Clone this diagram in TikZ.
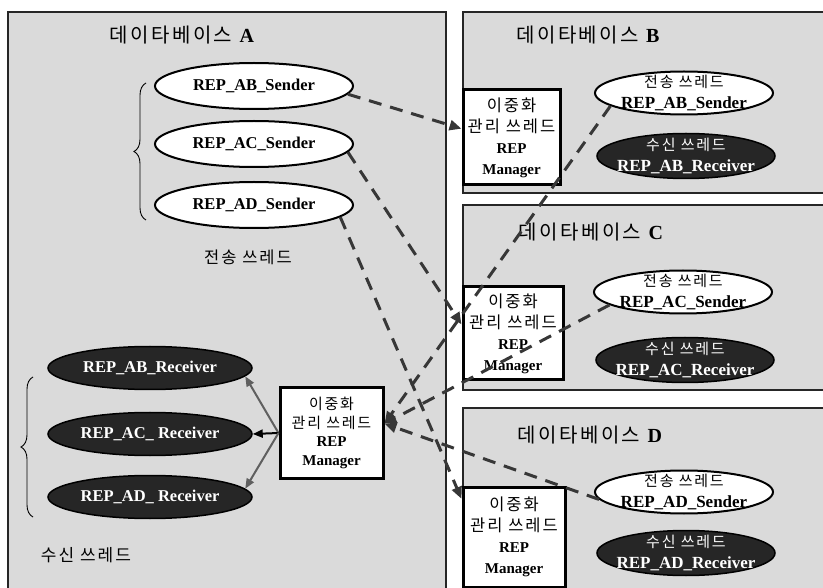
\documentclass[tikz,border=0pt]{standalone}
\usepackage{fontspec}
\setmainfont{Liberation Serif}
\newfontfamily\kr[LetterSpace=12]{Noto Sans CJK KR}
\usetikzlibrary{arrows.meta,decorations.pathreplacing,shapes.geometric}
\definecolor{panelc}{RGB}{218,218,218}
\definecolor{recvc}{RGB}{38,38,38}
\definecolor{dashc}{RGB}{55,55,55}
\definecolor{solc}{RGB}{95,95,95}
\tikzset{
  panelline/.style={draw=black!85, line width=2pt},
  titlec/.style={inner sep=0pt, font=\fontsize{20}{24}\selectfont},
  sendA/.style={ellipse, draw=black, line width=2pt, fill=white, inner sep=0pt,
    minimum width=198pt, minimum height=46pt, font=\bfseries\fontsize{16.5}{19}\selectfont},
  recvA/.style={ellipse, draw=black, line width=1.5pt, fill=recvc, text=white, inner sep=0pt,
    minimum width=204pt, minimum height=43pt, font=\bfseries\fontsize{16.5}{19}\selectfont},
  sendR/.style={ellipse, draw=black, line width=2pt, fill=white, inner sep=-7pt, align=center,
    minimum width=178pt, minimum height=43pt, font=\fontsize{17}{21}\selectfont},
  recvR/.style={ellipse, draw=black, line width=1.5pt, fill=recvc, text=white, inner sep=-7pt, align=center,
    minimum width=178pt, minimum height=45pt, font=\fontsize{17}{21}\selectfont},
  mgr/.style={rectangle, draw=black, line width=3pt, fill=white, align=center, inner sep=1pt,
    font=\fontsize{15}{21}\selectfont},
  lbl/.style={inner sep=0pt},
  bracec/.style={decorate, decoration={brace, amplitude=12pt}, draw=black, line width=0.9pt},
  dsh/.style={draw=dashc, line width=3pt, dash pattern=on 13pt off 9pt,
    -{Triangle[length=12pt,width=10pt]}},
  sol/.style={draw=solc, line width=2pt, -{Triangle[length=10pt,width=8pt]}}
}
\newcommand\krA[1]{{\kr\fontsize{15}{18.5}\selectfont #1}}
\newcommand\krR[1]{{\kr\fontsize{16.5}{21}\selectfont #1}}
\newcommand\krE[1]{{\kr\fontsize{15}{21}\selectfont #1}}
\begin{document}
\begin{tikzpicture}[x=1pt,y=-1pt]
\useasboundingbox (0,0) rectangle (823,588);
\fill[white] (0,0) rectangle (823,588);
% panels
\fill[panelc] (8,12) rectangle (446,588);
\draw[panelline] (8,588) -- (8,12) -- (446,12) -- (446,588);
\fill[panelc] (463,12) rectangle (823,193);
\draw[panelline] (823,12) -- (463,12) -- (463,193) -- (823,193);
\fill[panelc] (463,205) rectangle (823,390);
\draw[panelline] (823,205) -- (463,205) -- (463,390) -- (823,390);
\fill[panelc] (463,408) rectangle (823,588);
\draw[panelline] (823,408) -- (463,408) -- (463,588);
% titles
\node[titlec] (tA) at (182,35) {{\kr 데이타베이스} \textbf{A}};
\node[titlec] (tB) at (588,35) {{\kr 데이타베이스} \textbf{B}};
\node[titlec] (tC) at (591,232) {{\kr 데이타베이스} \textbf{C}};
\node[titlec] (tD) at (590,435) {{\kr 데이타베이스} \textbf{D}};
% database A
\node[sendA] (sAB) at (254,86) {REP\_AB\_Sender};
\node[sendA] (sAC) at (254,144) {REP\_AC\_Sender};
\node[sendA] (sAD) at (254,205) {REP\_AD\_Sender};
\node[lbl, font=\kr\fontsize{16.5}{18}\selectfont] (lS) at (248,257) {전송 쓰레드};
\node[recvA] (rAB) at (150,368) {REP\_AB\_Receiver};
\node[recvA] (rAC) at (150,434) {REP\_AC\_ Receiver};
\node[recvA] (rAD) at (150,497) {REP\_AD\_ Receiver};
\node[lbl, font=\kr\fontsize{17}{20}\selectfont] (lR) at (86,555) {수신 쓰레드};
\node[mgr, minimum width=103pt, minimum height=90pt, font=\fontsize{15}{18.5}\selectfont] (mA) at (331.5,433)
  {\krA{이중화}\\\krA{관리 쓰레드}\\\textbf{REP}\\\textbf{Manager}};
\coordinate (bS1) at (146,220);
\coordinate (bS2) at (146,83);
\draw[bracec] (bS1) -- (bS2);
\coordinate (bR1) at (33,517);
\coordinate (bR2) at (33,377);
\draw[bracec] (bR1) -- (bR2);
% database B
\node[mgr, minimum width=97pt, minimum height=95pt] (mB) at (511.5,137.5)
  {\krR{이중화}\\\krR{관리 쓰레드}\\\textbf{REP}\\\textbf{Manager}};
\node[sendR] (sB) at (684,93) {\krE{전송 쓰레드}\\\textbf{REP\_AB\_Sender}};
\node[recvR] (rB) at (686,156) {\krE{수신 쓰레드}\\\textbf{REP\_AB\_Receiver}};
% database C
\node[mgr, minimum width=100pt, minimum height=93pt] (mC) at (513,333.5)
  {\krR{이중화}\\\krR{관리 쓰레드}\\\textbf{REP}\\\textbf{Manager}};
\node[sendR] (sC) at (683,292) {\krE{전송 쓰레드}\\\textbf{REP\_AC\_Sender}};
\node[recvR] (rC) at (685,360) {\krE{수신 쓰레드}\\\textbf{REP\_AC\_Receiver}};
% database D
\node[mgr, minimum width=102pt, minimum height=100pt] (mD) at (514,537)
  {\krR{이중화}\\\krR{관리 쓰레드}\\\textbf{REP}\\\textbf{Manager}};
\node[sendR] (sD) at (684,492) {\krE{전송 쓰레드}\\\textbf{REP\_AD\_Sender}};
\node[recvR] (rD) at (686,553) {\krE{수신 쓰레드}\\\textbf{REP\_AD\_Receiver}};
% solid arrows manager A -> receivers
\draw[sol] (mA.west) -- (rAB.-5);
\draw[sol, draw=black] (mA.west) -- (rAC.east);
\draw[sol] (mA.west) -- (rAD.5);
% dashed arrows
\draw[dsh] (sAB.-5) -- (mB.170);
\draw[dsh] (sAC.-5) -- (mC.170);
\draw[dsh] (sAD.-8) -- (mD.144);
\draw[dsh] (sB.190) -- (mA.10);
\draw[dsh] (sC.190) -- (mA.10);
\draw[dsh] (sD.185) -- (mA.10);
\end{tikzpicture}
\end{document}
